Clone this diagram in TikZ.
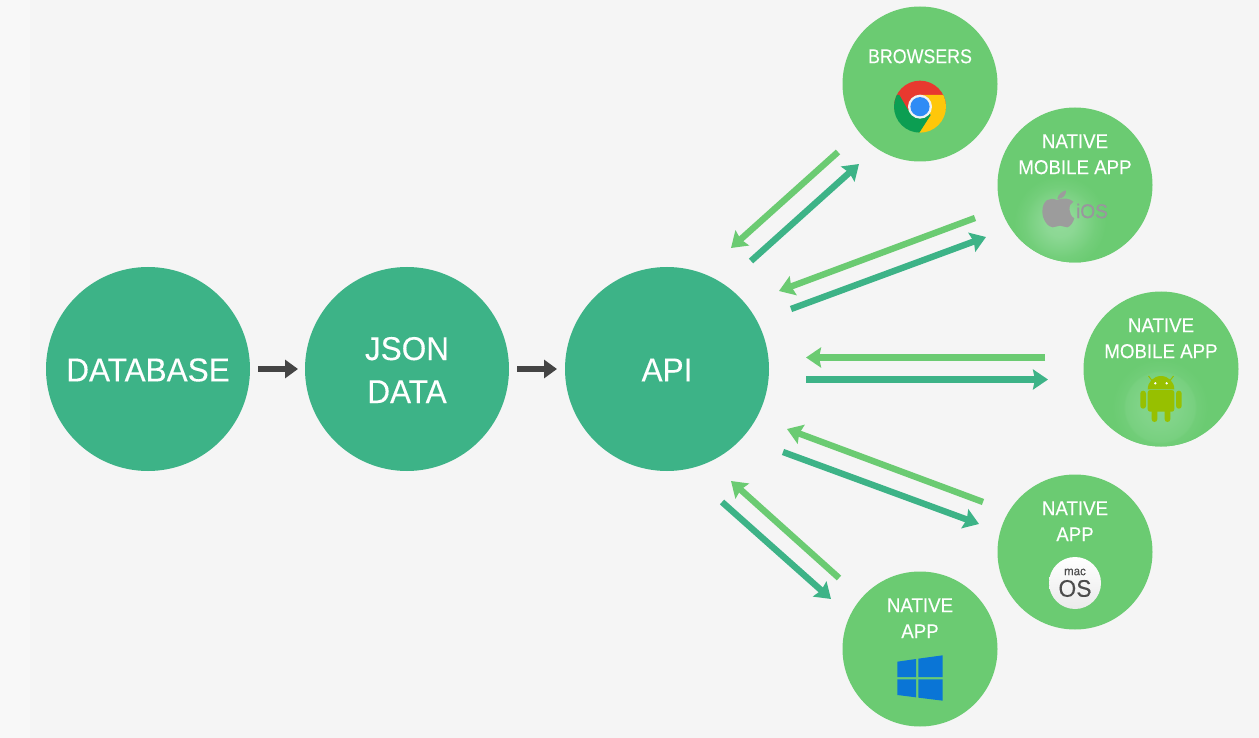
\documentclass[tikz,border=0pt]{standalone}
\usepackage{fontspec}
\setmainfont[FakeStretch=0.88]{Liberation Sans}
\newfontfamily\bigfont[FakeStretch=0.955,FakeBold=0.2]{Liberation Sans}
\newfontfamily\smallfont[FakeStretch=0.935,FakeBold=0.15]{Liberation Sans}
\newfontfamily\brfont[FakeStretch=0.89,FakeBold=0.15]{Liberation Sans}
\usetikzlibrary{arrows.meta}
\definecolor{bgmain}{HTML}{F5F5F5}
\definecolor{bgside}{HTML}{F8F8F8}
\definecolor{darkgreen}{HTML}{3DB387}
\definecolor{lightgreen}{HTML}{6BCB72}
\definecolor{arrowgray}{HTML}{444444}
\definecolor{chred}{HTML}{E8392F}
\definecolor{chyellow}{HTML}{FFC70A}
\definecolor{chgreen}{HTML}{0C9E52}
\definecolor{chblue}{HTML}{2E8CF5}
\definecolor{applegray}{HTML}{9C9C9C}
\definecolor{iosgray}{HTML}{9A959E}
\definecolor{droid}{HTML}{97C000}
\definecolor{winblue}{HTML}{0A75D6}
\definecolor{glowa}{HTML}{92DA9A}
\definecolor{glowb}{HTML}{84D58C}
\pgfdeclareradialshading{glowshadeA}{\pgfpoint{0bp}{0bp}}{%
  color(0bp)=(glowa); color(8bp)=(glowa!85!lightgreen); color(17bp)=(glowa!35!lightgreen);
  color(19bp)=(glowa!22!lightgreen); color(25bp)=(lightgreen); color(50bp)=(lightgreen)}
\pgfdeclareradialshading{glowshadeB}{\pgfpoint{0bp}{0bp}}{%
  color(0bp)=(glowb); color(10bp)=(glowb!85!lightgreen); color(18bp)=(glowb!50!lightgreen);
  color(19bp)=(glowb!25!lightgreen); color(25bp)=(lightgreen); color(50bp)=(lightgreen)}
\tikzset{
  x=1pt,y=-1pt,
  bigcirc/.style={circle,fill=darkgreen,inner sep=0pt,minimum size=204pt},
  biglbl/.style={text=white,align=center,inner sep=0pt,font=\bigfont\fontsize{33}{43}\selectfont},
  smallcirc/.style={circle,fill=lightgreen,inner sep=0pt,minimum size=155pt},
  lbl/.style={text=white,align=center,inner sep=0pt,font=\smallfont\fontsize{20}{26}\selectfont},
  lightarrow/.style={draw=lightgreen,line width=6.4pt,-{Stealth[length=15pt,width=20pt,inset=2pt]}},
  darkarrow/.style={draw=darkgreen,line width=6.4pt,-{Stealth[length=15pt,width=20pt,inset=2pt]}},
  grayarrow/.style={draw=arrowgray,line width=6.4pt,-{Triangle[length=13pt,width=18pt]}},
  zoomA/.style={shift={(840,0)},x=0.33333pt,y=-0.33333pt},
}
\begin{document}
\begin{tikzpicture}
\useasboundingbox (0,0) rectangle (1259,738);
\fill[bgside] (0,0) rectangle (1259,738);
\fill[bgmain] (30,0) rectangle (1259,738);

\node[bigcirc] (db) at (148,369) {};
\node[bigcirc] (json) at (407,369) {};
\node[bigcirc] (api) at (667,369) {};
\node[biglbl] (dbl) at (148,370) {DATABASE};
\node[biglbl] (jsonl) at (407,370) {JSON\\DATA};
\node[biglbl] (apil) at (667,370) {API};

\node[smallcirc] (browsers) at (920,84) {};
\node[smallcirc] (ios) at (1075,185) {};
\node[smallcirc] (android) at (1161,369) {};
\node[smallcirc] (macos) at (1075,552) {};
\node[smallcirc] (windows) at (920,649) {};

% glows
\begin{scope}
\clip (1075,185) circle (77.5pt);
\shade[shading=glowshadeA] (1060,222) circle (46pt);
\end{scope}
\begin{scope}
\clip (1161,369) circle (77.5pt);
\shade[shading=glowshadeB] (1160,407) circle (48pt);
\end{scope}

% labels
\node[lbl,font=\brfont\fontsize{20}{26}\selectfont] (lb1) at (920,56.3) {BROWSERS};
\node[lbl] (lb2) at (1075,154.3) {NATIVE\\MOBILE APP};
\node[lbl] (lb3) at (1161,338.3) {NATIVE\\MOBILE APP};
\node[lbl] (lb4) at (1075,521.3) {NATIVE\\APP};
\node[lbl] (lb5) at (920,618.3) {NATIVE\\APP};

% gray arrows
\coordinate (g1s) at (258,369); \coordinate (g1e) at (298,369);
\coordinate (g2s) at (517,369); \coordinate (g2e) at (557,369);
\draw[grayarrow] (g1s) -- (g1e);
\draw[grayarrow] (g2s) -- (g2e);

% green arrows
\coordinate (a1s) at (838,152); \coordinate (a1e) at (731,248);
\coordinate (a2s) at (751,261); \coordinate (a2e) at (859,164);
\coordinate (a3s) at (975,218); \coordinate (a3e) at (779,291);
\coordinate (a4s) at (791,309); \coordinate (a4e) at (986,237);
\coordinate (a5s) at (1045,357.5); \coordinate (a5e) at (806,357.5);
\coordinate (a6s) at (806,379.5); \coordinate (a6e) at (1048,379.5);
\coordinate (a7s) at (983,502); \coordinate (a7e) at (787,429);
\coordinate (a8s) at (783,452); \coordinate (a8e) at (979,524);
\coordinate (a9s) at (839,578); \coordinate (a9e) at (731,481);
\coordinate (a10s) at (722,502); \coordinate (a10e) at (831,599);
\draw[lightarrow] (a1s) -- (a1e);
\draw[darkarrow] (a2s) -- (a2e);
\draw[lightarrow] (a3s) -- (a3e);
\draw[darkarrow] (a4s) -- (a4e);
\draw[lightarrow] (a5s) -- (a5e);
\draw[darkarrow] (a6s) -- (a6e);
\draw[lightarrow] (a7s) -- (a7e);
\draw[darkarrow] (a8s) -- (a8e);
\draw[lightarrow] (a9s) -- (a9e);
\draw[darkarrow] (a10s) -- (a10e);

% Chrome icon
\begin{scope}[zoomA]
\begin{scope}
\clip (240,320) circle (26pt);
\fill[chred] (150,220) rectangle (330,330);
\fill[chyellow] (240,285) -- (330,285) -- (330,420) -- (220,420) -- (272,345) -- cycle;
\fill[chgreen] (178,285) -- (140,285) -- (140,420) -- (224,420) -- (272,345) -- (240,320) -- (210,340) -- cycle;
\end{scope}
\fill[white!90!gray] (240,320) circle (12pt);
\fill[chblue] (240,320) circle (9.6pt);
\end{scope}

% Apple + iOS
\begin{scope}[zoomA]
\fill[applegray] (650,600) .. controls (630,590) and (607,600) .. (607,635)
  .. controls (607,660) and (625,682) .. (638,682)
  .. controls (648,682) and (652,677) .. (660,677)
  .. controls (668,677) and (672,682) .. (682,682)
  .. controls (692,680) and (700,665) .. (703,655)
  .. controls (685,645) and (683,612) .. (700,605)
  .. controls (690,595) and (670,592) .. (650,600) -- cycle;
\fill[applegray] (652,597) .. controls (655,582) and (665,575) .. (678,571)
  .. controls (680,585) and (668,597) .. (652,597) -- cycle;
\end{scope}
\node[inner sep=0pt,text=iosgray,font=\bigfont\fontsize{20}{24}\selectfont] (iostext) at (1092,211) {iOS};

% Android
\fill[droid] (1147.7,389.3) arc[start angle=180,end angle=0,radius=13.3pt] -- cycle;
\fill[droid,rounded corners=2.5pt] (1147.7,390) -- (1147.7,411.7) -- (1174.3,411.7) -- (1174.3,390) -- cycle;
\fill[droid,rounded corners=2.8pt] (1140.3,390.7) rectangle (1146,408.7);
\fill[droid,rounded corners=2.8pt] (1176,390.7) rectangle (1181.7,408.7);
\fill[droid,rounded corners=2.8pt] (1151.7,405) rectangle (1157.3,422);
\fill[droid,rounded corners=2.8pt] (1164.7,405) rectangle (1170.3,422);
\coordinate (an1a) at (1148.5,376); \coordinate (an1b) at (1152.7,381.5);
\coordinate (an2a) at (1173.5,376); \coordinate (an2b) at (1169.3,381.5);
\draw[droid,line width=1pt] (an1a) -- (an1b);
\draw[droid,line width=1pt] (an2a) -- (an2b);
\fill[white] (1155.3,383.3) circle (1.3pt);
\fill[white] (1166.7,383.3) circle (1.3pt);

% macOS
\node[circle,inner sep=0pt,minimum size=52pt,top color=white,bottom color=black!8] (macbadge) at (1075,583) {};
\node[inner sep=0pt,text=black!70,font=\bigfont\fontsize{12}{13}\selectfont] (mactext) at (1075,572) {mac};
\node[inner sep=0pt,text=black!70,font=\bigfont\fontsize{24}{28}\selectfont] (ostext) at (1075,588.5) {OS};

% Windows
\begin{scope}[shift={(840,470)},x=0.33333pt,y=-0.33333pt]
\fill[winblue] (172,575) -- (228,567) -- (228,621) -- (172,621) -- cycle;
\fill[winblue] (235,566) -- (308,556) -- (308,621) -- (235,621) -- cycle;
\fill[winblue] (172,628) -- (228,628) -- (228,682) -- (172,675) -- cycle;
\fill[winblue] (235,628) -- (308,628) -- (308,692) -- (235,683) -- cycle;
\end{scope}
\end{tikzpicture}
\end{document}
